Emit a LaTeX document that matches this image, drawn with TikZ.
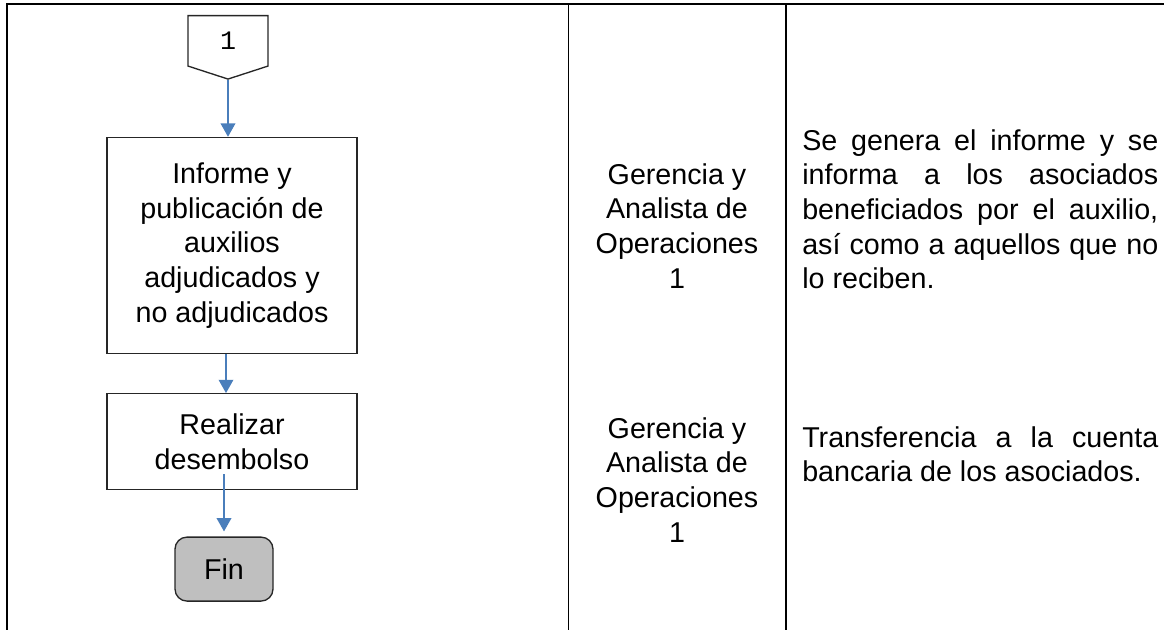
\documentclass[tikz,border=0pt]{standalone}
\usepackage{fontspec}
\setmainfont{Liberation Sans}
\setmonofont{Liberation Mono}
\usepackage{tikz}
\usetikzlibrary{arrows.meta}
\usetikzlibrary{shapes.symbols}
\usetikzlibrary{positioning}
\definecolor{flowblue}{HTML}{4A7EBB}
\definecolor{fingray}{HTML}{BFBFBF}
\tikzset{
    grid line/.style={
        line width=1pt,
        black
    },
    proc box/.style={
        draw=black!85,
        line width=1pt,
        minimum width=187.5pt,
        align=center,
        font=\fontsize{21.5}{26}\selectfont
    },
    offpage/.style={
        draw=black!85,
        line width=1pt,
        shape=signal,
        signal to=south,
        signal from=nowhere,
        signal pointer angle=144,
        minimum width=60pt,
        minimum height=39.75pt,
        inner sep=0pt,
        font=\ttfamily\fontsize{20}{22}\selectfont
    },
    end box/.style={
        draw=black!85,
        line width=1pt,
        fill=fingray,
        rounded corners=9pt,
        minimum width=73.5pt,
        minimum height=48pt,
        font=\fontsize{21.5}{26}\selectfont
    },
    flow/.style={
        flowblue,
        line width=1pt,
        -{Triangle[width=11pt,length=10pt]}
    },
    role text/.style={
        inner sep=0pt,
        align=center,
        font=\fontsize{21.5}{26}\selectfont
    },
    desc text/.style={
        inner sep=0pt,
        text width=267pt,
        align=justify,
        font=\fontsize{21.5}{26}\selectfont,
        execute at begin node={\tolerance=10000 \hyphenpenalty=10000 }
    }
}
\begin{document}
\begin{tikzpicture}[x=0.75pt,y=-0.75pt]
    \useasboundingbox (0,0) rectangle (1164,630);
    \draw[grid line] (6,4) -- (1164,4);
    \foreach \x in {7,568.5,786}
      \draw[grid line] (\x,4) -- (\x,630);
    \node[offpage,anchor=north] (c1) at (228,15) {1};
    \node[proc box,minimum height=162pt,below=42.75pt of c1,xshift=3pt] (inf)
      {Informe y\\publicación de\\auxilios\\adjudicados y\\no adjudicados};
    \node[proc box,minimum height=72pt,below=29.25pt of inf] (desem)
      {Realizar\\desembolso};
    \node[end box,below=34.5pt of desem,xshift=-6pt] (fin) {Fin};
    \draw[flow] (c1.south) -- (c1.south |- inf.north);
    \draw[flow] ([xshift=-4.5pt]inf.south) -- ([xshift=-4.5pt]desem.north);
    \draw[flow,shorten >=3.75pt] ([yshift=12pt]fin.north |- desem.south) -- (fin.north);
    \node[role text,anchor=north] (rol1) at (677,163)
      {Gerencia y\\Analista de\\Operaciones\\1};
    \node[role text,anchor=north] (rol2) at (677,417)
      {Gerencia y\\Analista de\\Operaciones\\1};
    \node[desc text,anchor=north west] (desc1) at (802,129)
      {Se genera el informe y se\linebreak informa a los asociados\linebreak beneficiados por el auxilio,\linebreak así como a aquellos que no\linebreak lo reciben.};
    \node[desc text,anchor=north west] (desc2) at (802,426)
      {Transferencia a la cuenta\linebreak bancaria de los asociados.};
\end{tikzpicture}
\end{document}
